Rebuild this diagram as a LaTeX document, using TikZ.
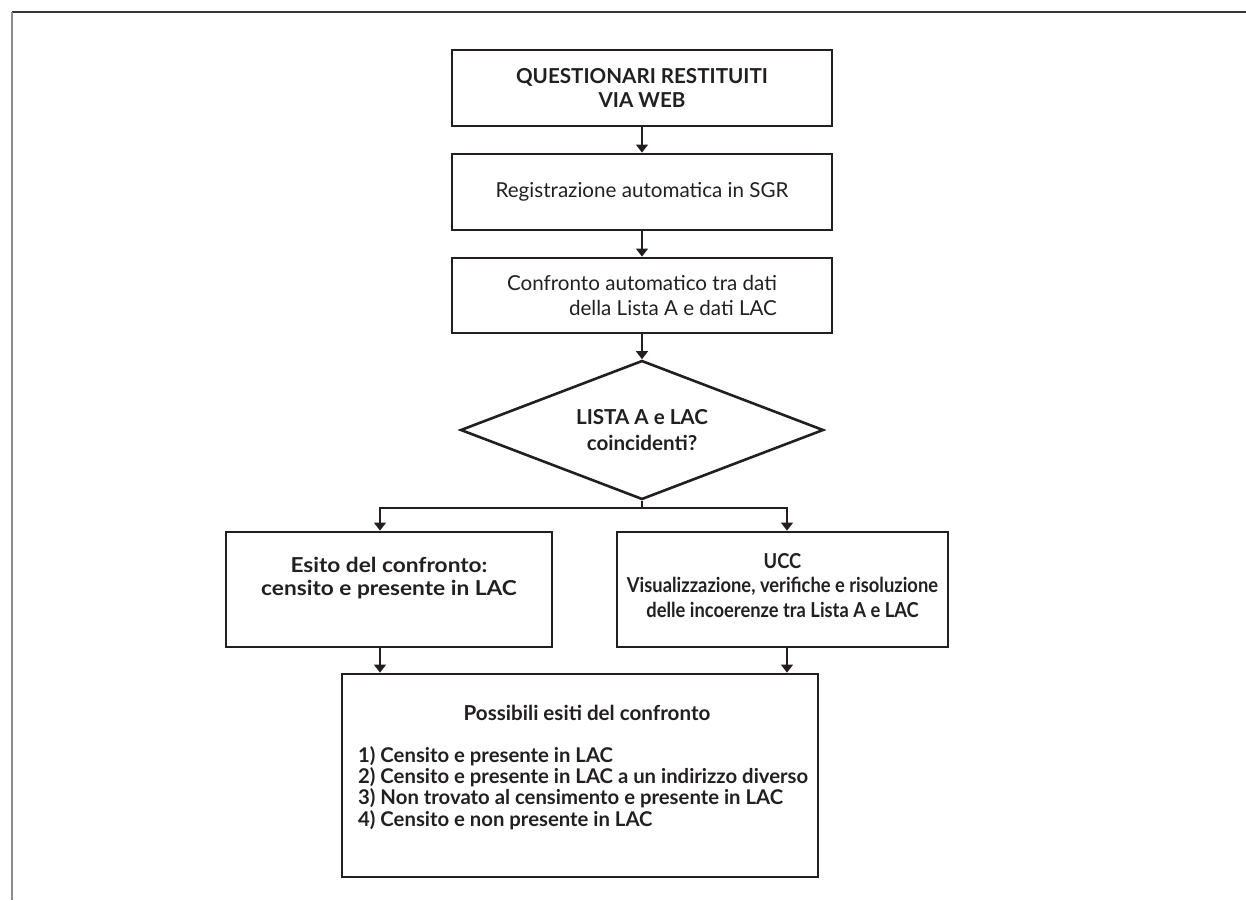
\documentclass[tikz,border=0pt]{standalone}
\usepackage{fontspec}
\setmainfont{Lato}
\newfontfamily\narrowfont[FakeStretch=0.89]{Lato}
\newfontfamily\widefont[FakeStretch=1.1]{Lato}
\usetikzlibrary{shapes.geometric,arrows.meta}
\definecolor{ink}{HTML}{231F20}
\definecolor{framegray}{HTML}{8C8C8C}
\begin{document}
\begin{tikzpicture}[x=1pt,y=-1pt,
  box/.style={draw=ink,line width=2.8pt,rectangle,inner sep=0pt,text=ink,align=center,font=\fontsize{20.6}{24.5}\selectfont},
  dia/.style={draw=ink,line width=2.6pt,diamond,inner sep=0pt,aspect=2.6,text=ink,align=center,font=\fontsize{20.6}{26}\selectfont\bfseries},
  txt/.style={inner sep=0pt,text=ink},
  arr/.style={draw=ink,line width=1.3pt,-{Triangle[width=12pt,length=8pt]}},
  lnk/.style={draw=ink,line width=1.3pt}]
\useasboundingbox (0,0) rectangle (1246,900);
% frame
\coordinate (fc) at (12,12);
\coordinate (fr) at (1246,12);
\coordinate (fb) at (12,900);
\draw[ink!90,line width=1.4pt] (fc) -- (fr);
\draw[framegray,line width=1.8pt] (fc) -- (fb);
% nodes
\node[box,minimum width=380pt,minimum height=76pt,font=\fontsize{20.6}{24.5}\selectfont\bfseries] (q1) at (642,88) {QUESTIONARI RESTITUITI\\VIA WEB};
\node[box,minimum width=380pt,minimum height=76pt] (q2) at (642,192) {Registrazione automatica in SGR};
\node[box,minimum width=380pt,minimum height=75pt,align=left] (q3) at (642,295.5) {Confronto automatico tra dati\\\hspace*{62pt}della Lista A e dati LAC};
\node[dia,minimum width=363pt,minimum height=139pt] (D) at (642,430) {LISTA A e LAC\\coincidenti?};
\node[box,minimum width=326pt,minimum height=115pt,font=\widefont\fontsize{20.6}{23}\selectfont\bfseries] (L) at (389,589.5) {Esito del confronto:\\censito e presente in LAC\\[4pt]};
\node[box,minimum width=331pt,minimum height=115pt,font=\narrowfont\fontsize{20.6}{24.5}\selectfont\bfseries] (R) at (782.5,589.5) {UCC\\Visualizzazione, verifiche e risoluzione\\delle incoerenze tra Lista A e LAC\\[-16pt]};
\node[box,minimum width=476pt,minimum height=203pt] (B) at (580,775.5) {};
\node[txt,font=\fontsize{20.6}{21.3}\selectfont\bfseries] (Bh) at (587,713) {Possibili esiti del confronto};
\node[txt,anchor=west,align=left,font=\fontsize{20.3}{21.3}\selectfont\bfseries] (Bl) at (358,788) {1) Censito e presente in LAC\\2) Censito e presente in LAC a un indirizzo diverso\\3) Non trovato al censimento e presente in LAC\\4) Censito e non presente in LAC};
% connectors
\coordinate (jl) at (380,508);
\coordinate (jr) at (787,508);
\draw[arr] (q1) -- (q2);
\draw[arr] (q2) -- (q3);
\draw[arr] (q3.south) -- (D.north);
\draw[lnk] (D.south) -- (D.south |- jl);
\draw[arr] (D.south |- jl) -- (jl) -- (jl |- L.north);
\draw[arr] (D.south |- jr) -- (jr) -- (jr |- R.north);
\draw[arr] (jl |- L.south) -- (jl |- B.north);
\draw[arr] (jr |- R.south) -- (jr |- B.north);
\end{tikzpicture}
\end{document}
